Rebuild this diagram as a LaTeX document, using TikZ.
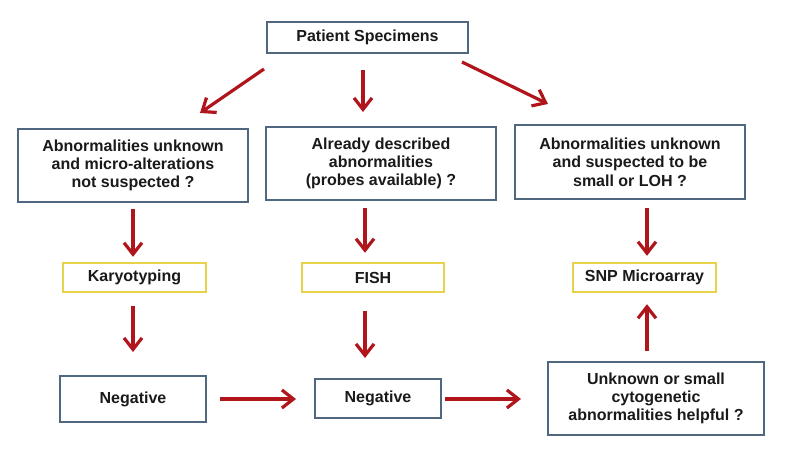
\documentclass[tikz,border=0pt]{standalone}
\usepackage{fontspec}
\setmainfont{Liberation Sans}
\usetikzlibrary{arrows.meta}
\definecolor{boxblue}{HTML}{50687F}
\definecolor{boxyellow}{HTML}{E8D24A}
\definecolor{arrred}{HTML}{B0151C}
\definecolor{txt}{HTML}{1A1A1A}
\tikzset{
  qbox/.style={draw=boxblue, line width=2pt, fill=white, align=center, inner sep=0pt,
    font=\fontsize{16}{18.3}\selectfont\bfseries, text=txt},
  tbox/.style={draw=boxyellow, line width=2.4pt, fill=white, align=center, inner sep=0pt,
    font=\fontsize{16}{18.3}\selectfont\bfseries, text=txt},
  arr/.style={draw=arrred, line width=3.2pt, -{Straight Barb[length=11.5pt,width=18pt]}}
}
\begin{document}
\begin{tikzpicture}[x=1pt,y=-1pt]
\useasboundingbox (0,0) rectangle (793,465);
\node[qbox, minimum width=201pt, minimum height=31pt] (ps) at (367.5,37.5) {Patient Specimens};
\node[qbox, minimum width=230pt, minimum height=73pt] (b1) at (133,165.5) {Abnormalities unknown\\and micro-alterations\\not suspected ?};
\node[qbox, minimum width=230pt, minimum height=73pt] (b2) at (381,163.5) {Already described\\abnormalities\\(probes available) ?};
\node[qbox, minimum width=230pt, minimum height=74pt] (b3) at (630,162) {Abnormalities unknown\\and suspected to be\\small or LOH ?};
\node[tbox, minimum width=143pt, minimum height=29pt] (k) at (134.5,277.5) {Karyotyping};
\node[tbox, minimum width=142pt, minimum height=29pt] (f) at (373,277.5) {FISH};
\node[tbox, minimum width=143pt, minimum height=29pt] (s) at (644.5,277.5) {SNP Microarray};
\node[qbox, minimum width=146pt, minimum height=46pt] (n1) at (133,399) {Negative};
\node[qbox, minimum width=126pt, minimum height=39pt] (n2) at (378,398.5) {Negative};
\node[qbox, minimum width=216pt, minimum height=73pt] (u) at (656,398.5) {Unknown or small\\cytogenetic\\abnormalities helpful ?};
% top arrows
\coordinate (a1s) at ([shift={(-2,15)}]ps.south west);
\coordinate (a1e) at ([shift={(67,-15)}]b1.north);
\draw[arr] (a1s) -- (a1e);
\coordinate (a2s) at ([shift={(-4.5,16)}]ps.south);
\coordinate (a2e) at ([shift={(-18,-14)}]b2.north);
\draw[arr] (a2s) -- (a2e);
\coordinate (a3s) at ([shift={(-7,8)}]ps.south east);
\coordinate (a3e) at ([shift={(-82,-20)}]b3.north);
\draw[arr] (a3s) -- (a3e);
% second row arrows
\draw[arr] ([shift={(0,6)}]b1.south) -- ([shift={(-1.5,-5)}]k.north);
\draw[arr] ([shift={(-16,7)}]b2.south) -- ([shift={(-8,-9)}]f.north);
\draw[arr] ([shift={(17,8)}]b3.south) -- ([shift={(2.5,-6)}]s.north);
% third row arrows
\draw[arr] ([shift={(-1.5,13)}]k.south) -- ([shift={(0,-23)}]n1.north);
\draw[arr] ([shift={(-8,18)}]f.south) -- ([shift={(-13,-20)}]n2.north);
\draw[arr] ([shift={(-9,-10)}]u.north) -- ([shift={(2.5,11)}]s.south);
% horizontal arrows
\draw[arr] ([shift={(13,0)}]n1.east) -- ([shift={(-18,0.5)}]n2.west);
\draw[arr] ([shift={(3,0.5)}]n2.east) -- ([shift={(-26,0.5)}]u.west);
\end{tikzpicture}
\end{document}
